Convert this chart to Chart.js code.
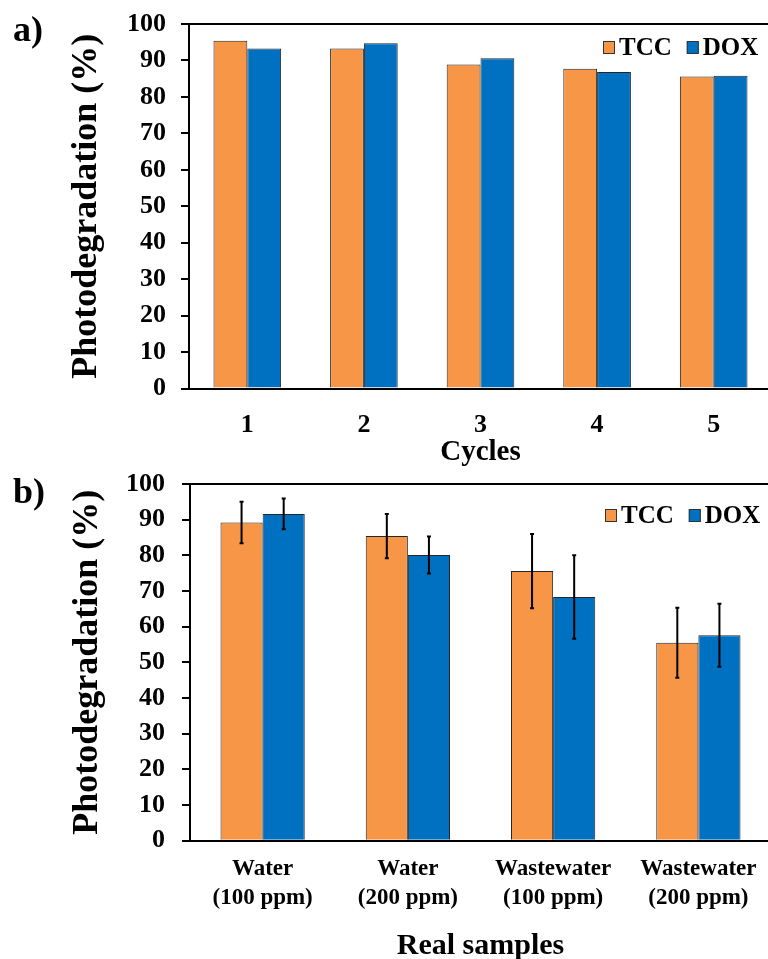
<!DOCTYPE html>
<html>
<head>
<meta charset="utf-8">
<script src="https://cdn.jsdelivr.net/npm/chart.js@4/dist/chart.umd.min.js"></script>
<style>
  html, body { margin: 0; padding: 0; background: #fff; overflow: hidden; width: 768px; height: 959px; }
  #wrap { position: relative; width: 768px; height: 959px; overflow: hidden; background: #fff; }
  canvas { position: absolute; left: 0; }
  #cyc { top: 0; }
  #real { top: 460px; }
</style>
</head>
<body>
<div id="wrap">
  <canvas id="cyc" width="776" height="470"></canvas>
  <canvas id="real" width="776" height="510"></canvas>
</div>
<script>
// Panel a: reuse cycles
const cycleLabels = ['1', '2', '3', '4', '5'];
const tccCycles = [95.4, 93.3, 88.9, 87.7, 85.6];
const doxCycles = [93.3, 94.7, 90.6, 86.8, 85.8];

// Panel b: real samples
const sampleLabels = [
  ['Water', '(100 ppm)'],
  ['Water', '(200 ppm)'],
  ['Wastewater', '(100 ppm)'],
  ['Wastewater', '(200 ppm)']
];
const tccSamples = [89.2, 85.4, 75.6, 55.5];
const tccSampleErr = [5.8, 6.2, 10.4, 9.8];
const doxSamples = [91.6, 80.1, 68.3, 57.6];
const doxSampleErr = [4.3, 5.2, 11.7, 8.8];

const seriesNames = ['TCC', 'DOX'];
const yMin = 0, yMax = 100, yStep = 10;

const SERIF = "'Liberation Serif', 'Times New Roman', serif";
const ORANGE = '#F79646';
const BLUE = '#0070C0';
const EDGE = '#262626';

// key drawn inside the plot, top right
const cornerKey = {
  id: 'cornerKey',
  afterDraw(chart, args, opts) {
    const ctx = chart.ctx;
    ctx.save();
    ctx.font = `bold ${opts.size}px ${SERIF}`;
    ctx.textAlign = 'left';
    ctx.textBaseline = 'alphabetic';
    let x = opts.x;
    chart.data.datasets.forEach(ds => {
      ctx.fillStyle = ds.backgroundColor;
      ctx.fillRect(x, opts.y, 12, 13);
      ctx.strokeStyle = '#333';
      ctx.lineWidth = 1;
      ctx.strokeRect(x + 0.5, opts.y + 0.5, 11, 12);
      ctx.fillStyle = '#000';
      ctx.fillText(ds.label, x + 16, opts.y + 14);
      x += 16 + ctx.measureText(ds.label).width + 15;
    });
    ctx.restore();
  }
};

// vertical +/- error whiskers on each bar
const errorBars = {
  id: 'errorBars',
  afterDatasetsDraw(chart) {
    const ctx = chart.ctx;
    const ys = chart.scales.y;
    ctx.save();
    ctx.strokeStyle = '#000';
    ctx.lineWidth = 2;
    chart.data.datasets.forEach((ds, i) => {
      if (!ds.errors) return;
      const meta = chart.getDatasetMeta(i);
      meta.data.forEach((bar, j) => {
        const v = ds.data[j], e = ds.errors[j];
        const top = ys.getPixelForValue(v + e);
        const bot = ys.getPixelForValue(v - e);
        ctx.beginPath();
        ctx.moveTo(bar.x, top);
        ctx.lineTo(bar.x, bot);
        ctx.moveTo(bar.x - 2, top);
        ctx.lineTo(bar.x + 2, top);
        ctx.moveTo(bar.x - 2, bot);
        ctx.lineTo(bar.x + 2, bot);
        ctx.stroke();
      });
    });
    ctx.restore();
  }
};

// "a)" / "b)" panel tags
const panelTag = {
  id: 'panelTag',
  afterDraw(chart, args, opts) {
    const ctx = chart.ctx;
    ctx.save();
    ctx.font = `bold 36px ${SERIF}`;
    ctx.fillStyle = '#000';
    ctx.textAlign = 'left';
    ctx.textBaseline = 'alphabetic';
    ctx.fillText(opts.text, opts.x, opts.y);
    ctx.restore();
  }
};

function yAxis(width, tickPad, titlePad) {
  return {
    min: yMin,
    max: yMax,
    ticks: {
      stepSize: yStep,
      color: '#000',
      padding: tickPad,
      font: { family: SERIF, size: 26, weight: 'bold' }
    },
    grid: {
      drawOnChartArea: true,
      color: c => (c.tick && c.tick.value === yMax) ? '#000' : 'rgba(0,0,0,0)',
      lineWidth: 2,
      drawTicks: true,
      tickLength: 8,
      tickColor: '#000',
      tickWidth: 2
    },
    border: { display: true, color: '#000', width: 2 },
    title: {
      display: true,
      text: 'Photodegradation (%)',
      color: '#000',
      font: { family: SERIF, size: 36, weight: 'bold' },
      padding: { top: titlePad, bottom: 0 }
    },
    afterFit: s => {
      s.width = width;
      // the end labels may overhang the plot edges
      s.paddingTop = 0;
      s.paddingBottom = 0;
    }
  };
}

function xAxis(title, height, tickSize, tickLH, tickPad, titleSize, titlePadBottom) {
  return {
    ticks: {
      color: '#000',
      padding: tickPad,
      maxRotation: 0,
      autoSkip: false,
      font: { family: SERIF, size: tickSize, weight: 'bold', lineHeight: tickLH }
    },
    grid: { display: false },
    border: { display: true, color: '#000', width: 2 },
    title: {
      display: true,
      text: title,
      color: '#000',
      font: { family: SERIF, size: titleSize, weight: 'bold' },
      padding: { top: 0, bottom: titlePadBottom }
    },
    afterFit: s => { s.height = height; }
  };
}

function barSet(label, data, color, errors) {
  const ds = {
    label: label,
    data: data,
    backgroundColor: color,
    borderColor: EDGE,
    borderWidth: 1,
    categoryPercentage: 0.58,
    barPercentage: 1.0
  };
  if (errors) ds.errors = errors;
  return ds;
}

new Chart(document.getElementById('cyc'), {
  type: 'bar',
  data: {
    labels: cycleLabels,
    datasets: [
      barSet(seriesNames[0], tccCycles, ORANGE),
      barSet(seriesNames[1], doxCycles, BLUE)
    ]
  },
  options: {
    responsive: false,
    animation: false,
    devicePixelRatio: 1,
    layout: { padding: { top: 24, right: 4, left: 0, bottom: 0 } },
    scales: {
      x: xAxis('Cycles', 81.5, 26, 1.2, 13, 29, 0),
      y: yAxis(189, 15, 65)
    },
    plugins: {
      legend: { display: false },
      tooltip: { enabled: false },
      cornerKey: { x: 603, y: 41, size: 25 },
      panelTag: { text: 'a)', x: 13, y: 41 }
    }
  },
  plugins: [errorBars, cornerKey, panelTag]
});

new Chart(document.getElementById('real'), {
  type: 'bar',
  data: {
    labels: sampleLabels,
    datasets: [
      barSet(seriesNames[0], tccSamples, ORANGE, tccSampleErr),
      barSet(seriesNames[1], doxSamples, BLUE, doxSampleErr)
    ]
  },
  options: {
    responsive: false,
    animation: false,
    devicePixelRatio: 1,
    layout: { padding: { top: 24, right: 5, left: 0, bottom: 0 } },
    scales: {
      x: xAxis('Real samples', 129.3, 23, 1.27, 6, 30, 6),
      y: yAxis(190, 17, 66)
    },
    plugins: {
      legend: { display: false },
      tooltip: { enabled: false },
      cornerKey: { x: 605, y: 49, size: 25 },
      panelTag: { text: 'b)', x: 13, y: 43 }
    }
  },
  plugins: [errorBars, cornerKey, panelTag]
});
</script>
</body>
</html>
